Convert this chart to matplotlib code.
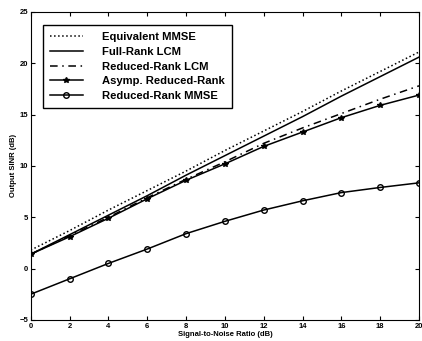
import matplotlib
matplotlib.use("Agg")
import matplotlib.pyplot as plt

plt.rcParams['font.family'] = ['Liberation Sans', 'DejaVu Sans']
plt.rcParams['font.weight'] = 'bold'

# SNR points (dB)
snr = [0, 2, 4, 6, 8, 10, 12, 14, 16, 18, 20]

# output SINR (dB) per method
equiv_mmse = [1.8, 3.7, 5.7, 7.6, 9.5, 11.5, 13.4, 15.3, 17.3, 19.2, 21.1]
full_rank_lcm = [1.4, 3.3, 5.2, 7.1, 9.1, 11.0, 12.9, 14.8, 16.8, 18.7, 20.6]
reduced_rank_lcm = [1.4, 3.2, 5.0, 6.9, 8.7, 10.4, 12.2, 13.7, 15.1, 16.5, 17.8]
asymp_reduced = [1.4, 3.1, 4.9, 6.8, 8.6, 10.2, 11.9, 13.3, 14.7, 15.9, 16.9]
reduced_mmse = [-2.5, -1.0, 0.5, 1.9, 3.4, 4.6, 5.7, 6.6, 7.4, 7.9, 8.35]

labels = ["Equivalent MMSE", "Full-Rank LCM", "Reduced-Rank LCM",
          "Asymp. Reduced-Rank", "Reduced-Rank MMSE"]
xticks = [0, 2, 4, 6, 8, 10, 12, 14, 16, 18, 20]
yticks = [-5, 0, 5, 10, 15, 20, 25]

fig = plt.figure(figsize=(4.22, 3.41), dpi=100)
ax = fig.add_axes([0.073, 0.062, 0.920, 0.903])

ax.plot(snr, equiv_mmse, color='black', linestyle=':', linewidth=1.1, label=labels[0])
ax.plot(snr, full_rank_lcm, color='black', linestyle='-', linewidth=1.1, label=labels[1])
ax.plot(snr, reduced_rank_lcm, color='black', linestyle=(0, (5, 3, 1, 3)), linewidth=1.1, label=labels[2])
ax.plot(snr, asymp_reduced, color='black', linestyle='-', linewidth=1.1, marker='*',
        markersize=4, label=labels[3])
ax.plot(snr, reduced_mmse, color='black', linestyle='-', linewidth=1.1, marker='o',
        markersize=4, markerfacecolor='none', markeredgewidth=1.0, label=labels[4])

ax.set_xlim(0, 20)
ax.set_ylim(-5, 25)
ax.set_xticks(xticks)
ax.set_yticks(yticks)
ax.tick_params(direction='in', top=True, right=True, labelsize=5.5, length=3, pad=2)
for lab in ax.get_xticklabels() + ax.get_yticklabels():
    lab.set_fontweight('bold')

ax.set_xlabel("Signal-to-Noise Ratio (dB)", fontsize=5.5, fontweight='bold', labelpad=1)
ax.set_ylabel("Output SINR (dB)", fontsize=5.5, fontweight='bold', labelpad=2)

leg = ax.legend(loc='upper left', bbox_to_anchor=(0.031, 0.958), borderaxespad=0,
                fancybox=False, edgecolor='black', framealpha=1,
                prop={'size': 8.1, 'weight': 'bold'},
                handlelength=2.9, labelspacing=0.42, borderpad=0.65, handletextpad=1.7)
leg.get_frame().set_linewidth(1.0)

fig.savefig("out.png", dpi=100)
